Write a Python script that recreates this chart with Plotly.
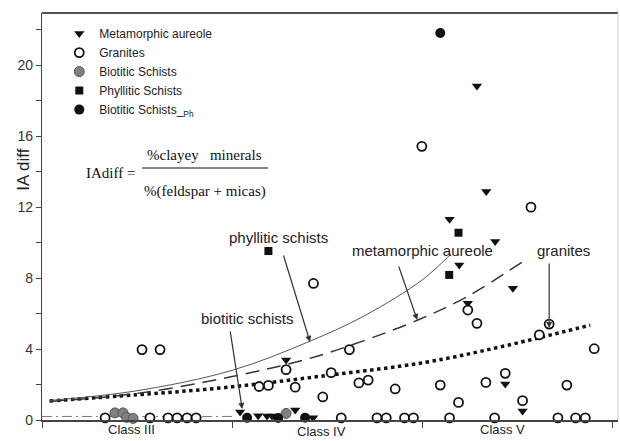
import plotly.graph_objects as go

# ---------------- data ----------------
# x: 0..3, Class III = 0-1, Class IV = 1-2, Class V = 2-3
meta_x = [1.042, 1.137, 1.184, 1.21, 1.332, 1.426, 1.284,
          2.24, 2.195, 2.477, 2.384, 2.144, 2.337, 2.288, 2.437, 2.528]
meta_y = [0.45, 0.24, 0.23, 0.23, 0.56, 0.13, 3.38,
          6.58, 8.74, 7.43, 10.06, 11.32, 12.88, 18.84, 2.03, 0.51]

gran_x = [0.526, 0.621, 0.332, 0.568, 0.663, 0.711, 0.763, 0.811,
          1.428, 1.284, 1.617, 1.521, 1.142, 1.191, 1.332, 1.477, 1.667, 1.716, 1.858,
          1.574, 1.762, 1.811, 1.907, 1.954, 2.144, 2.381, 2.714, 2.807, 2.858,
          2.095, 2.191, 2.335, 2.437, 2.528, 2.761, 2.905, 2.616, 2.668, 2.24, 2.288,
          1.998, 2.572]
gran_y = [3.97, 3.97, 0.12, 0.12, 0.12, 0.12, 0.12, 0.12,
          7.70, 2.84, 3.97, 2.67, 1.89, 1.95, 1.85, 1.30, 2.09, 2.25, 1.75,
          0.12, 0.12, 0.12, 0.12, 0.12, 0.12, 0.12, 0.12, 0.12, 0.12,
          1.97, 0.99, 2.12, 2.63, 1.09, 1.97, 4.02, 4.80, 5.41, 6.20, 5.45,
          15.43, 12.0]

biot_x = [0.384, 0.426, 0.445, 0.479, 1.284]
biot_y = [0.40, 0.40, 0.15, 0.09, 0.37]

phyl_x = [1.191, 2.191, 2.142]
phyl_y = [9.53, 10.56, 8.18]

bph_x = [1.079, 1.242, 1.384, 2.095]
bph_y = [0.12, 0.11, 0.13, 21.82]

# trend curves
phyl_curve_x = [0.04, 0.5, 1.0, 1.4, 1.7, 2.0, 2.15]
phyl_curve_y = [1.1, 1.65, 2.8, 4.4, 5.9, 7.9, 9.35]

meta_curve_x = [0.04, 0.5, 1.0, 1.4, 1.7, 1.98, 2.235, 2.525]
meta_curve_y = [1.05, 1.5, 2.45, 3.45, 4.5, 5.65, 6.95, 8.9]

gran_curve_x = [0.04, 0.5, 0.963, 1.49, 2.016, 2.41, 2.884]
gran_curve_y = [1.07, 1.42, 1.83, 2.5, 3.25, 4.12, 5.35]

biot_curve_x = [0.0, 1.0]
biot_curve_y = [0.2, 0.2]

class_labels = ["Class III", "Class IV", "Class V"]
class_pos = [0.47, 1.47, 2.42]
yticks = [0, 4, 8, 12, 16, 20]

FONT = "Liberation Sans, Arial, sans-serif"
SERIF = "Liberation Serif, Times New Roman, serif"

fig = go.Figure()

# curves
fig.add_trace(go.Scatter(x=biot_curve_x, y=biot_curve_y, mode="lines", showlegend=False,
                         line=dict(color="#777", width=1, dash="10px,4px,2px,4px"), hoverinfo="skip"))
fig.add_trace(go.Scatter(x=gran_curve_x, y=gran_curve_y, mode="lines", showlegend=False,
                         line=dict(color="#111", width=3.5, dash="dot", shape="spline"), hoverinfo="skip"))
fig.add_trace(go.Scatter(x=meta_curve_x, y=meta_curve_y, mode="lines", showlegend=False,
                         line=dict(color="#333", width=1.5, dash="14px,8px", shape="spline"), hoverinfo="skip"))
fig.add_trace(go.Scatter(x=phyl_curve_x, y=phyl_curve_y, mode="lines", showlegend=False,
                         line=dict(color="#555", width=1, shape="spline"), hoverinfo="skip"))

# points
fig.add_trace(go.Scatter(x=meta_x, y=meta_y, mode="markers", name="Metamorphic aureole",
                         marker=dict(symbol="triangle-down", size=9, color="#111"), cliponaxis=False))
fig.add_trace(go.Scatter(x=gran_x, y=gran_y, mode="markers", name="Granites",
                         marker=dict(symbol="circle", size=9, color="white",
                                     line=dict(color="#111", width=1.8)), cliponaxis=False))
fig.add_trace(go.Scatter(x=biot_x, y=biot_y, mode="markers", name="Biotitic Schists",
                         marker=dict(symbol="circle", size=10, color="#808080",
                                     line=dict(color="#555", width=1)), cliponaxis=False))
fig.add_trace(go.Scatter(x=phyl_x, y=phyl_y, mode="markers", name="Phyllitic Schists",
                         marker=dict(symbol="square", size=8, color="#111"), cliponaxis=False))
fig.add_trace(go.Scatter(x=bph_x, y=bph_y, mode="markers", name="Biotitic Schists_<sub>Ph</sub>",
                         marker=dict(symbol="circle", size=10, color="#111"), cliponaxis=False))

annotations = []
# class labels (below the axis, in paper coordinates)
for lab, pos, yy in zip(class_labels, class_pos, [-0.023, -0.028, -0.023]):
    annotations.append(dict(x=pos / 3.03, y=yy, xref="paper", yref="paper", text=lab,
                            showarrow=False, font=dict(family=FONT, size=13, color="#222"),
                            xanchor="center", yanchor="middle"))

# y axis title
annotations.append(dict(x=-0.031, y=0.615, xref="paper", yref="paper", text="IA diff",
                        textangle=-90, showarrow=False, xanchor="center", yanchor="middle",
                        font=dict(family=FONT, size=17, color="#222")))

# curve labels
lab_font = dict(family=FONT, size=15, color="#222")
annotations += [
    dict(x=1.242, y=10.27, text="phyllitic schists", showarrow=False, font=lab_font),
    dict(x=1.079, y=5.70, text="biotitic schists", showarrow=False, font=lab_font),
    dict(x=2.0, y=9.53, text="metamorphic aureole", showarrow=False, font=lab_font),
    dict(x=2.742, y=9.53, text="granites", showarrow=False, font=lab_font),
]
# arrows
arrow_style = dict(showarrow=True, arrowhead=2, arrowsize=1, arrowwidth=1.2, arrowcolor="#333",
                   text="", axref="x", ayref="y")
for (tx, ty, hx, hy) in [(1.268, 9.36, 1.41, 4.4), (0.989, 5.08, 1.053, 0.62),
                         (1.874, 8.74, 1.974, 5.64), (2.668, 8.91, 2.668, 5.19)]:
    a = dict(arrow_style)
    a.update(x=hx, y=hy, ax=tx, ay=ty)
    annotations.append(a)

# formula
annotations += [
    dict(x=0.358, y=13.93, text="IAdiff =", showarrow=False,
         font=dict(family=SERIF, size=15, color="#111")),
    dict(x=0.855, y=14.95, text="%clayey&nbsp;&nbsp; minerals", showarrow=False,
         font=dict(family=SERIF, size=15, color="#111")),
    dict(x=0.858, y=12.86, text="%(feldspar + micas)", showarrow=False,
         font=dict(family=SERIF, size=15, color="#111")),
]
for a in annotations:
    a.setdefault("xref", "x")
    a.setdefault("yref", "y")

shapes = [
    dict(type="line", xref="x", yref="y", x0=0.526, x1=1.189, y0=14.21, y1=14.21,
         line=dict(color="#111", width=1)),
    dict(type="line", xref="paper", yref="paper", x0=0, x1=1, y0=1, y1=1,
         line=dict(color="#555", width=2)),
    dict(type="line", xref="paper", yref="paper", x0=1, x1=1, y0=0, y1=1,
         line=dict(color="#ccc", width=1)),
]

fig.update_layout(
    width=620, height=441,
    margin=dict(l=42, r=2, t=13, b=21),
    paper_bgcolor="white", plot_bgcolor="white",
    font=dict(family=FONT, color="#222"),
    annotations=annotations, shapes=shapes,
    legend=dict(x=0.03, y=0.985, xanchor="left", yanchor="top",
                font=dict(family=FONT, size=12, color="#222"),
                bgcolor="rgba(0,0,0,0)", tracegroupgap=0, itemwidth=30),
    xaxis=dict(range=[0, 3.03], showgrid=False, zeroline=False, showline=True,
               linecolor="#444", linewidth=1.5, tickvals=[0, 1, 2, 3], ticktext=["", "", "", ""],
               ticks="outside", ticklen=6, tickcolor="#444"),
    yaxis=dict(range=[0, 22.95], showgrid=False, zeroline=False, showline=True,
               linecolor="#444", linewidth=1.2, tickvals=yticks,
               ticks="outside", ticklen=5, tickcolor="#444",
               tickfont=dict(family=FONT, size=14, color="#333"),
               minor=dict(dtick=2, tick0=0, ticks="outside", ticklen=5, tickcolor="#444")),
)

fig.write_html("out.html")
